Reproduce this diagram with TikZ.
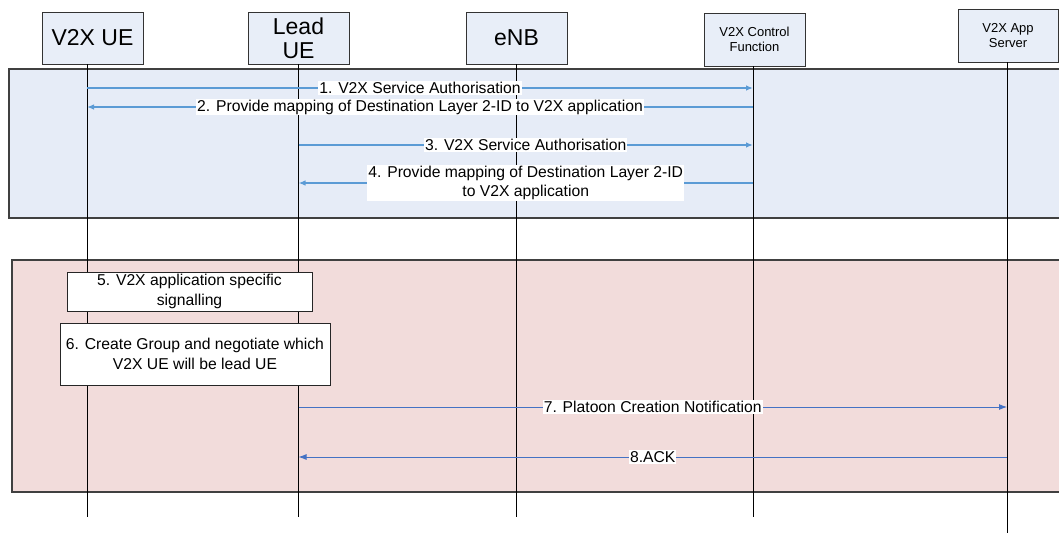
\documentclass[tikz,border=0pt]{standalone}
\usepackage{fontspec}
\setmainfont{Liberation Sans}
\usetikzlibrary{arrows.meta}

\definecolor{phaseblue}{RGB}{230,236,247}
\definecolor{headblue}{RGB}{232,238,248}
\definecolor{phasepink}{RGB}{242,220,219}
\definecolor{msgblue}{RGB}{91,155,213}
\definecolor{msgdark}{RGB}{68,114,196}

\begin{document}
\begin{tikzpicture}[x=1pt,y=-1pt,
    head/.style={draw=black!80, fill=headblue, line width=0.8pt, minimum width=101pt,
      minimum height=52pt, align=center, inner sep=1pt},
    bighead/.style={head, font=\fontsize{23}{24}\selectfont},
    smallhead/.style={head, font=\fontsize{13}{15}\selectfont, minimum height=53pt},
    msg/.style={draw=msgblue, line width=1.3pt, -{Latex[length=7pt,width=5.5pt]}},
    msgthin/.style={draw=msgdark, line width=0.9pt, -{Latex[length=8pt,width=6pt]}},
    lbl/.style={fill=white, inner sep=1pt, text=black, align=center,
      font=\fontsize{15.7}{19}\selectfont},
    stepbox/.style={draw=black!85, fill=white, line width=0.8pt, align=center,
      inner sep=1pt, font=\fontsize{15.7}{20}\selectfont}]
  \useasboundingbox (0,0) rectangle (1059,533);

  % the two phases run out past the right edge
  \fill[phaseblue] (9,69) rectangle (1070,218);
  \draw[black!75, line width=1.2pt] (1070,69) -- (9,69) -- (9,218) -- (1070,218);
  \fill[phasepink] (12,260) rectangle (1070,492);
  \draw[black!75, line width=1.2pt] (1070,260) -- (12,260) -- (12,492) -- (1070,492);

  % entities and lifelines
  \node[bighead] (ue) at (92.5,38) {V2X UE};
  \node[bighead] (lead) at (298.5,38) {Lead\\UE};
  \node[bighead] (enb) at (516.5,38) {eNB};
  \node[smallhead] (vcf) at (754.5,39.5) {V2X Control\\Function};
  \node[smallhead, minimum width=100pt] (as) at (1008,35.5) {V2X App\\Server};

  \draw ([xshift=-5.5pt]ue.south) coordinate (uel) -- ++(0,453);
  \draw (lead.south) coordinate (leadl) -- ++(0,453);
  \draw (enb.south) coordinate (enbl) -- ++(0,453);
  \draw ([xshift=-1.5pt]vcf.south) coordinate (vcfl) -- ++(0,451);
  \draw ([xshift=-1pt]as.south) coordinate (asl) -- ++(0,471);

  % messages
  \draw[msg] (uel |- 0,88) -- node[lbl] {1. V2X Service Authorisation} (vcfl |- 0,88);
  \draw[msg] (vcfl |- 0,107) -- node[lbl] {2. Provide mapping of Destination Layer 2-ID to V2X application} (uel |- 0,107);
  \draw[msg] (leadl |- 0,145) -- node[lbl] {3. V2X Service Authorisation} (vcfl |- 0,145);
  \draw[msg] (vcfl |- 0,183) -- node[lbl] {4. Provide mapping of Destination Layer 2-ID\\to V2X application} (leadl |- 0,183);

  \node[stepbox, minimum width=245pt, minimum height=39pt] (sig) at (189.5,291.5)
    {5. V2X application specific\\signalling};
  \node[stepbox, minimum width=270pt, minimum height=62pt] (grp) at (195,354)
    {6. Create Group and negotiate which\\V2X UE will be lead UE};

  \draw[msgthin] (leadl |- 0,407) -- node[lbl] {7. Platoon Creation Notification} (asl |- 0,407);
  \draw[msgthin] (asl |- 0,457) -- node[lbl] {8.ACK} (leadl |- 0,457);
\end{tikzpicture}
\end{document}
